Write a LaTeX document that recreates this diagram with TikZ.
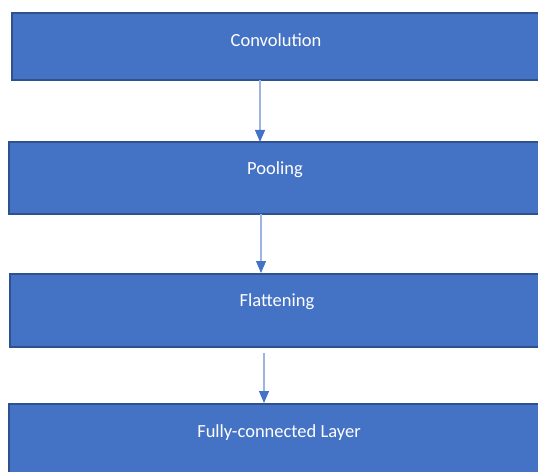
\documentclass[tikz,border=0pt]{standalone}
\usepackage{fontspec}
\setmainfont{Carlito}
\usetikzlibrary{arrows.meta}
\definecolor{boxfill}{HTML}{4472C4}
\definecolor{boxedge}{HTML}{2F528F}
\definecolor{linkline}{HTML}{9DB4E2}
\tikzset{
  x=1bp, y=-1bp,
  layerbox/.style={fill=boxfill, draw=boxedge, line width=1.3bp},
  layerlabel/.style={text=white, font=\fontsize{18.5bp}{22bp}\selectfont, inner sep=0pt},
  link/.style={draw=linkline, line width=1.1bp,
    -{Triangle[length=12bp, width=10bp, color=boxfill]}}
}
\begin{document}
\begin{tikzpicture}
\useasboundingbox (0,0) rectangle (538,472);
\clip (0,0) rectangle (538,472);

% layer boxes
\draw[layerbox] (12,13) rectangle (545,80);
\draw[layerbox] (9,142) rectangle (545,214);
\draw[layerbox] (10,274) rectangle (545,347);
\draw[layerbox] (9,404) rectangle (545,480);

% labels
\node[layerlabel] (conv) at (276,40) {Convolution};
\node[layerlabel] (pool) at (275,170) {Pooling};
\node[layerlabel] (flat) at (277,302) {Flattening};
\node[layerlabel] (fc) at (279,433) {Fully-connected Layer};

% connector end points
\coordinate (a1s) at (260,80);  \coordinate (a1e) at (260,142);
\coordinate (a2s) at (261,214); \coordinate (a2e) at (261,273);
\coordinate (a3s) at (264,353); \coordinate (a3e) at (264,403);

\draw[link] (a1s) -- (a1e);
\draw[link] (a2s) -- (a2e);
\draw[link] (a3s) -- (a3e);
\end{tikzpicture}
\end{document}
